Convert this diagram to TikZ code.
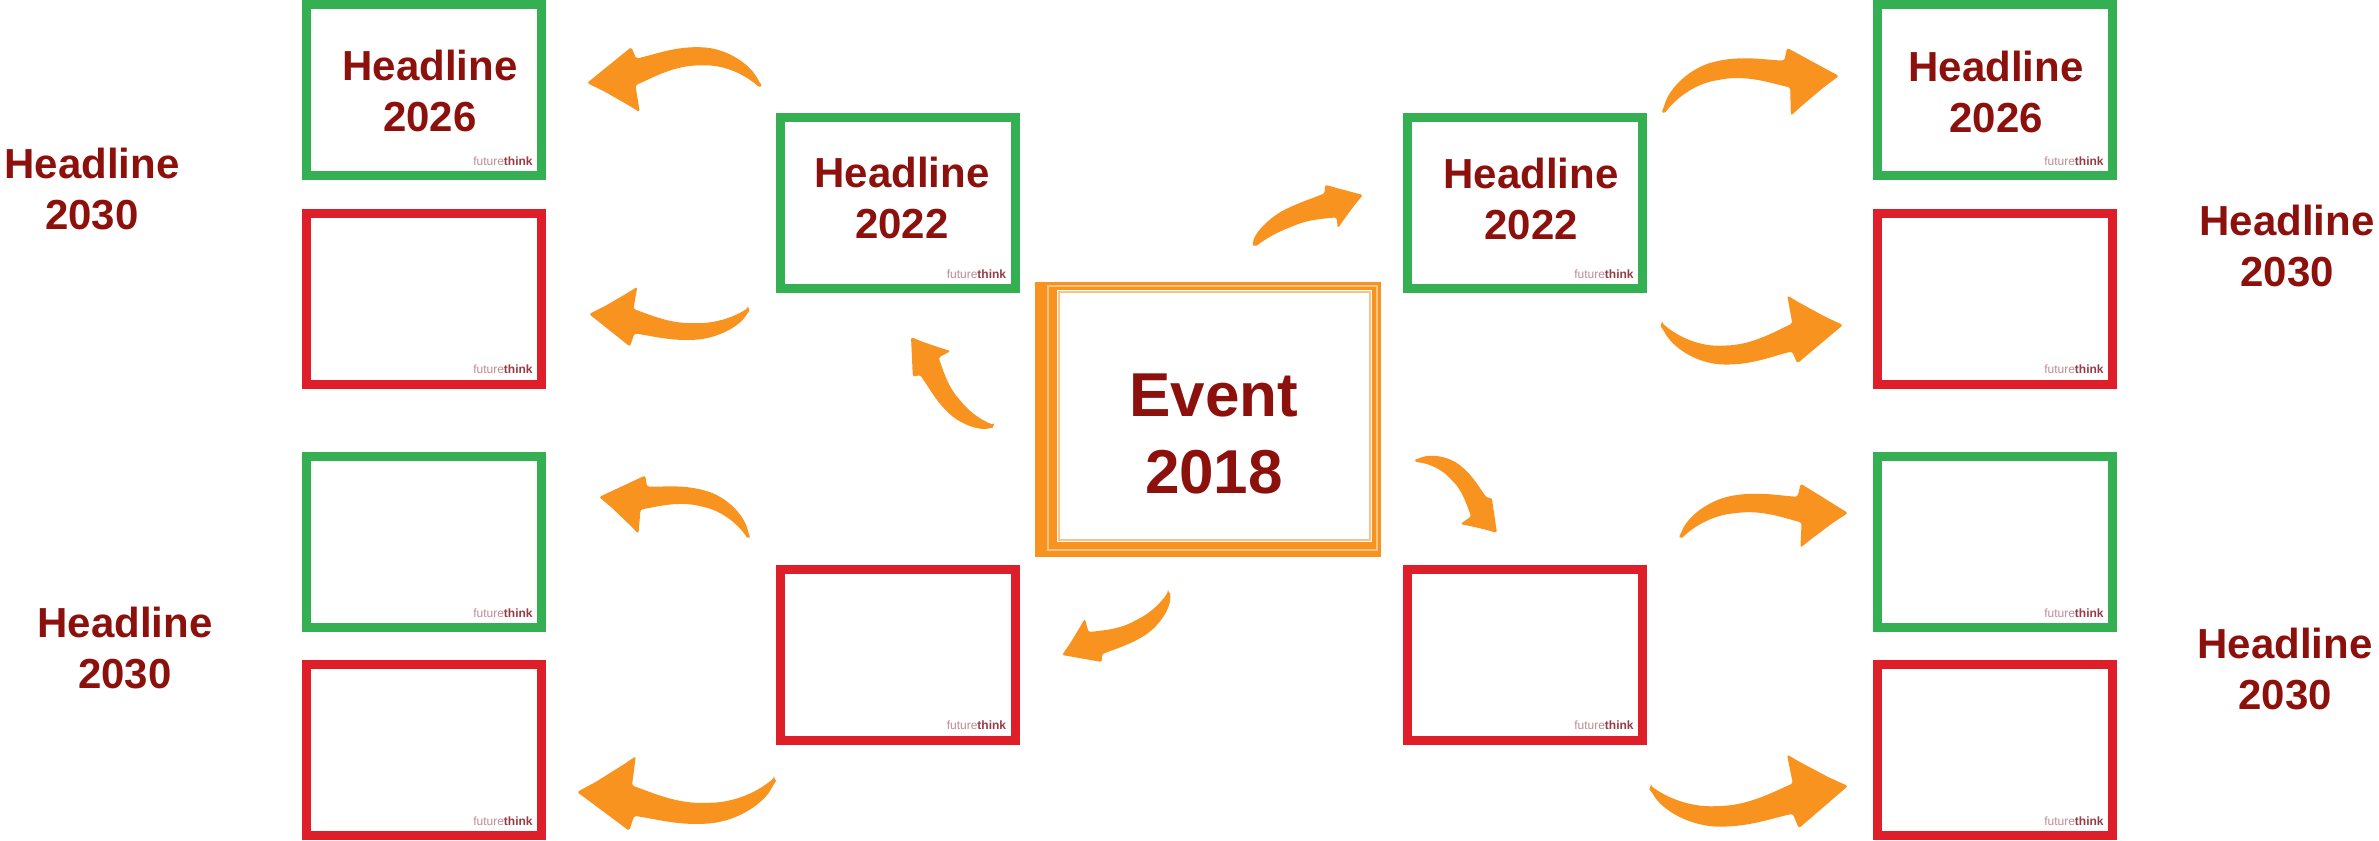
\documentclass[tikz,border=0pt]{standalone}
\usepackage{fontspec}
\setmainfont{Liberation Sans}
\usetikzlibrary{calc}

\definecolor{brushorange}{RGB}{247,147,30}
\definecolor{brushlight}{RGB}{251,196,130}
\definecolor{framegreen}{RGB}{52,176,82}
\definecolor{framered}{RGB}{222,30,40}
\definecolor{headred}{RGB}{140,16,12}
\definecolor{logolight}{RGB}{190,140,145}
\definecolor{logodark}{RGB}{150,60,70}

\newcommand\logotext{{\color{logolight}future}{\color{logodark}\bfseries think}}

% Brush-stroke arrow from tail coordinate #1 to tip coordinate #2.
% #3 = +1 bulges to the right of the direction of travel, -1 to the left;
% #4 = amount of bulge, #5 = thickness of the stroke (1 = standard).
\newcommand\brushstroke[5]{%
  \pgfpointdiff{\pgfpointanchor{#1}{center}}{\pgfpointanchor{#2}{center}}%
  \pgfgetlastxy{\brushdx}{\brushdy}%
  \def\bb{#4}\def\tk{#5}%
  \begin{scope}[shift={(#1)}, x={(\brushdx,\brushdy)},
                y={({-(#3)*\brushdy},{(#3)*\brushdx})}]
    \fill[brush] (0,0)
      .. controls (0.10,{-0.125*\bb+0.025*\tk}) and (0.22,{-0.19*\bb+0.04*\tk})
      .. (0.34,{-0.1925*\bb+0.0475*\tk})
      .. controls (0.50,{-0.19*\bb+0.05*\tk}) and (0.62,{-0.12*\bb+0.06*\tk})
      .. (0.72,{-0.08*\bb+0.07*\tk})
      -- (0.69,0.16) -- (0.75,0.125) -- (0.90,0.045) -- (1,0)
      -- (0.93,-0.06) -- (0.75,-0.215)
      -- (0.72,{-0.08*\bb-0.07*\tk})
      .. controls (0.62,{-0.12*\bb-0.06*\tk}) and (0.50,{-0.19*\bb-0.05*\tk})
      .. (0.34,{-0.1925*\bb-0.0475*\tk})
      .. controls (0.20,{-0.195*\bb-0.04*\tk}) and (0.06,{-0.12*\bb-0.03*\tk})
      .. (0.005,{-0.03*\tk})
      .. controls (-0.01,{-0.015*\tk}) .. (0,0) -- cycle;
  \end{scope}}

\begin{document}
\begin{tikzpicture}[x=0.5pt,y=-0.5pt,
  brush/.style={fill=brushorange, rounded corners=1.2pt},
  logo/.style={anchor=south east, inner sep=0pt, xshift=-4.25pt, yshift=4.75pt,
               font=\fontsize{6}{7}\selectfont},
  card/.style={rectangle, draw=#1, line width=4.5pt, fill=white,
               inner sep=0pt, outer sep=0pt,
               minimum width=117.5pt, minimum height=85.5pt,
               label={[logo]south east:\logotext}},
  headline/.style={font=\bfseries\fontsize{21}{25.5}\selectfont, text=headred,
                   align=center, inner sep=0pt},
  eventtext/.style={font=\bfseries\fontsize{31}{38.5}\selectfont, text=headred,
                    align=center, inner sep=0pt},
  eventframe/.style={rectangle, fill=brushorange, inner sep=0pt, outer sep=0pt,
                     minimum width=173pt, minimum height=137.5pt}]

\useasboundingbox (0,0) rectangle (2379,841);

% ---- central event frame ----
\node[eventframe] (ev) at (1208,419.5) {};
\draw[brushlight, line width=0.8pt] (1048,286) rectangle (1377,550);
\fill[white] (1057,290) rectangle (1372,542);
\draw[brushlight, line width=0.8pt] (1059,292) rectangle (1370,540);
\node[eventtext] (evt) at (1214,433.5) {Event\\2018};

% ---- first ring ----
\node[card=framegreen] (gL) at (897.5,203) {};
\node[card=framered]   (rL) at (897.5,654.5) {};
\node[card=framegreen] (gR) at (1525,203) {};
\node[card=framered]   (rR) at (1525,654.5) {};
\node[headline] (tgL) at (902,198) {Headline\\2022};
\node[headline] (tgR) at (1531,199) {Headline\\2022};

% ---- outer columns ----
\node[card=framegreen] (g1L) at (424,90) {};
\node[card=framered]   (r1L) at (424,298.5) {};
\node[card=framegreen] (g2L) at (424,542) {};
\node[card=framered]   (r2L) at (424,750) {};
\node[card=framegreen] (g1R) at (1995,90) {};
\node[card=framered]   (r1R) at (1995,298.5) {};
\node[card=framegreen] (g2R) at (1995,542) {};
\node[card=framered]   (r2R) at (1995,750) {};
\node[headline] (tg1L) at (430,91) {Headline\\2026};
\node[headline] (tg1R) at (1996,91.5) {Headline\\2026};

% ---- side captions ----
\node[headline] (capLT) at (92,189) {Headline\\2030};
\node[headline] (capLB) at (125,648.5) {Headline\\2030};
\node[headline] (capRT) at (2287,246.5) {Headline\\2030};
\node[headline] (capRB) at (2285,669.5) {Headline\\2030};

% ---- arrow ends ----
\coordinate (a1t) at (760,88);   \coordinate (a1h) at (587,83);
\coordinate (a2t) at (748,308);  \coordinate (a2h) at (589,314);
\coordinate (a3t) at (748,539);  \coordinate (a3h) at (599,497);
\coordinate (a4t) at (774,778);  \coordinate (a4h) at (577,792);
\coordinate (a5t) at (994,425);  \coordinate (a5h) at (911,337);
\coordinate (a6t) at (1168,592); \coordinate (a6h) at (1062,655);
\coordinate (a7t) at (1255,247); \coordinate (a7h) at (1363,195);
\coordinate (a8t) at (1415,462); \coordinate (a8h) at (1497,533);
\coordinate (a9t) at (1664,114); \coordinate (a9h) at (1839,76);
\coordinate (a10t) at (1662,323); \coordinate (a10h) at (1843,325);
\coordinate (a11t) at (1681,539); \coordinate (a11h) at (1848,513);
\coordinate (a12t) at (1651,786); \coordinate (a12h) at (1848,786);

% ---- brush arrows ----
\brushstroke{a1t}{a1h}{1}{0.9}{1.1}
\brushstroke{a2t}{a2h}{-1}{0.7}{1.1}
\brushstroke{a3t}{a3h}{1}{0.9}{1.1}
\brushstroke{a4t}{a4h}{-1}{0.8}{1.1}
\brushstroke{a5t}{a5h}{-1}{0.7}{1.5}
\brushstroke{a6t}{a6h}{-1}{0.7}{1.5}
\brushstroke{a7t}{a7h}{-1}{0.5}{1.6}
\brushstroke{a8t}{a8h}{-1}{0.9}{1.6}
\brushstroke{a9t}{a9h}{-1}{0.9}{1.1}
\brushstroke{a10t}{a10h}{1}{0.9}{1.1}
\brushstroke{a11t}{a11h}{-1}{0.8}{1.1}
\brushstroke{a12t}{a12h}{1}{0.8}{1.1}

\end{tikzpicture}
\end{document}
